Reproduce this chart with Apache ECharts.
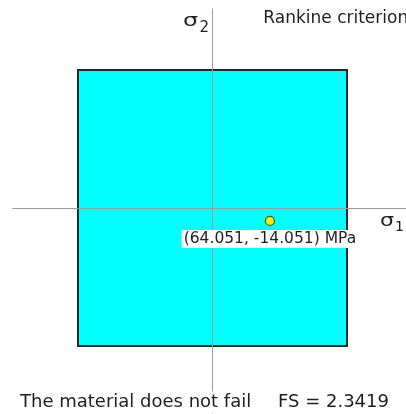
<!DOCTYPE html>
<html>
<head>
<meta charset="utf-8">
<script src="https://cdn.jsdelivr.net/npm/echarts@6/dist/echarts.min.js"></script>
<style>
  html, body { margin: 0; padding: 0; background: #ffffff; }
  #chart { width: 406px; height: 414px; }
</style>
</head>
<body>
<div id="chart"></div>
<script>
// Rankine (maximum normal stress) failure envelope in the sigma1-sigma2 plane
const strength = 150;                       // MPa, tensile = compressive limit
const envelopeS1 = [-150, 150, 150, -150];  // square corners, sigma1
const envelopeS2 = [150, 150, -150, -150];  // square corners, sigma2
const stateS1 = [64.051];                   // principal stress state, MPa
const stateS2 = [-14.051];
const xRange = [-222.8, 215.8];
const yRange = [-223.9, 216.3];

const maxStress = Math.max(Math.abs(stateS1[0]), Math.abs(stateS2[0]));
const fs = strength / maxStress;
const verdict = fs >= 1 ? 'The material does not fail' : 'The material fails';

const chart = echarts.init(document.getElementById('chart'), null, { renderer: 'canvas' });

const axisCommon = {
  type: 'value',
  z: 2,
  axisLine: { show: true, onZero: true, lineStyle: { color: '#9a9a9a', width: 1 } },
  axisTick: { show: false },
  axisLabel: { show: false },
  splitLine: { show: false }
};

const txt = '#1e1e1e';
const font = 'DejaVu Sans, Verdana, sans-serif';

chart.setOption({
  animation: false,
  backgroundColor: '#ffffff',
  grid: { left: 12.7, right: 0, top: 9, bottom: 0 },
  xAxis: Object.assign({}, axisCommon, { min: xRange[0], max: xRange[1] }),
  yAxis: Object.assign({}, axisCommon, { min: yRange[0], max: yRange[1] }),
  series: [
    {
      type: 'custom',
      z: 1,
      silent: true,
      data: [0],
      renderItem: function (params, api) {
        const pts = envelopeS1.map(function (s1, i) { return api.coord([s1, envelopeS2[i]]); });
        return {
          type: 'polygon',
          shape: { points: pts },
          style: { fill: '#00ffff', stroke: '#1c2a2a', lineWidth: 2 }
        };
      }
    },
    {
      type: 'scatter',
      z: 3,
      symbol: 'circle',
      symbolSize: 9,
      data: stateS1.map(function (s1, i) { return [s1, stateS2[i]]; }),
      itemStyle: { color: '#f2f000', borderColor: '#55551e', borderWidth: 1.2, opacity: 1 },
      label: {
        show: true,
        position: 'bottom',
        distance: 4,
        color: txt,
        fontFamily: font,
        fontSize: 15.5,
        backgroundColor: '#ffffff',
        padding: [1, 2, 1, 2],
        formatter: function (p) {
          return '(' + p.value[0].toFixed(3) + ', ' + p.value[1].toFixed(3) + ') MPa';
        }
      }
    }
  ],
  graphic: [
    { type: 'text', z: 10, left: 263.3, top: 10,
      style: { text: 'Rankine criterion', fill: txt, font: '17px ' + font } },
    // sigma2 axis name
    { type: 'text', z: 10, x: 183, y: 22, scaleX: 1.4,
      style: { text: 'σ', fill: txt, font: '17px ' + font, textVerticalAlign: 'middle' } },
    { type: 'text', z: 10, x: 199.5, y: 28.5,
      style: { text: '2', fill: txt, font: '15px ' + font, textVerticalAlign: 'middle' } },
    // sigma1 axis name
    { type: 'text', z: 10, x: 380, y: 222, scaleX: 1.3,
      style: { text: 'σ', fill: txt, font: '17px ' + font, textVerticalAlign: 'middle' } },
    { type: 'text', z: 10, x: 395, y: 227,
      style: { text: '1', fill: txt, font: '14px ' + font, textVerticalAlign: 'middle' } },
    // verdict and factor of safety
    { type: 'text', z: 10, x: 20, y: 402.5,
      style: { text: verdict, fill: txt, font: '18px ' + font, textVerticalAlign: 'middle',
               backgroundColor: '#ffffff', padding: [4, 0, 0, 0] } },
    { type: 'text', z: 10, x: 278, y: 402.5,
      style: { text: 'FS = ' + fs.toFixed(4), fill: txt, font: '18px ' + font, textVerticalAlign: 'middle' } }
  ]
});
</script>
</body>
</html>
